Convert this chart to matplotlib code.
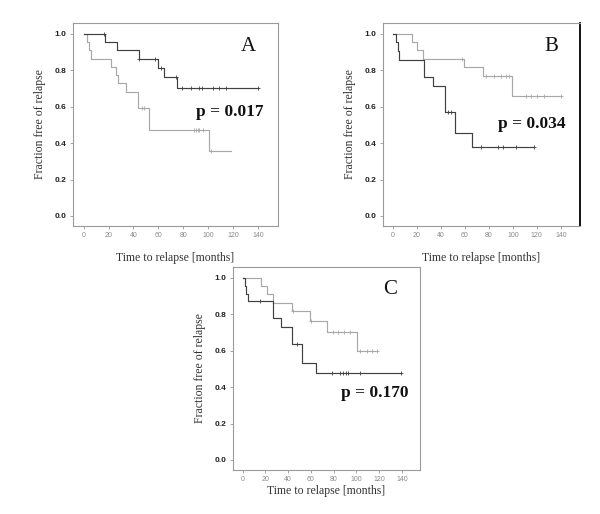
import matplotlib
matplotlib.use("Agg")
import matplotlib.pyplot as plt
import numpy as np

plt.rcParams["font.family"] = ["Liberation Serif", "DejaVu Serif"]

# Kaplan-Meier step data: step times, survival, censor times, last follow-up
# panel A
a_dark_t = [0, 16.9, 26.8, 44.2, 60.0, 64.8, 75.3]
a_dark_s = [1.0, 0.955, 0.909, 0.864, 0.811, 0.760, 0.700]
a_dark_c = [16.0, 44.8, 57.0, 62.0, 74.0, 79.0, 86.0, 92.5, 95.0, 103.5, 109.0, 114.0, 140.0]
a_dark_end = 140
a_light_t = [0, 2.7, 4.0, 5.9, 22.0, 26.3, 27.2, 34.3, 43.8, 52.5, 100.3]
a_light_s = [1.0, 0.955, 0.909, 0.864, 0.818, 0.773, 0.727, 0.682, 0.591, 0.473, 0.355]
a_light_c = [47.2, 48.7, 88.8, 90.1, 91.5, 92.8, 95.5, 102.5]
a_light_end = 118

# panel B
b_light_t = [0, 15.7, 20.1, 24.9, 59.3, 75.5, 99.2]
b_light_s = [1.0, 0.955, 0.909, 0.864, 0.816, 0.768, 0.658]
b_light_c = [57.4, 77.6, 84.0, 90.0, 94.2, 96.9, 110.7, 114.9, 120.4, 126.0, 140.0]
b_light_end = 140
b_dark_t = [0, 2.8, 4.1, 5.5, 25.7, 33.1, 43.3, 51.9, 65.7]
b_dark_s = [1.0, 0.952, 0.905, 0.857, 0.762, 0.714, 0.571, 0.457, 0.381]
b_dark_c = [46.0, 48.6, 73.5, 87.3, 91.4, 102.5, 118.0]
b_dark_end = 118

# panel C
c_light_t = [0, 16.5, 21.2, 26.3, 43.7, 59.0, 74.6, 100.3]
c_light_s = [1.0, 0.955, 0.909, 0.864, 0.819, 0.764, 0.702, 0.598]
c_light_c = [44.2, 60.5, 79.7, 84.0, 89.0, 94.3, 103.2, 109.1, 113.5, 118.0]
c_light_end = 118
c_dark_t = [0, 1.8, 3.3, 5.0, 26.3, 33.6, 43.7, 52.2, 64.9]
c_dark_s = [1.0, 0.957, 0.913, 0.870, 0.778, 0.732, 0.636, 0.530, 0.477]
c_dark_c = [15.2, 47.7, 78.2, 85.5, 88.4, 90.8, 92.8, 103.2, 139.2]
c_dark_end = 139.2

letters = ["A", "B", "C"]
pvalues = ["p = 0.017", "p = 0.034", "p = 0.170"]

DARK = "#404040"
LIGHT = "#a8a8a8"


def km(ax, t, s, cens, end, color):
    tt = list(t) + [end]
    ss = list(s) + [s[-1]]
    ax.step(tt, ss, where="post", color=color, lw=0.85, zorder=2)
    idx = np.searchsorted(t, cens, side="right") - 1
    ax.plot(cens, np.array(s)[idx], ls="none", marker="+", ms=3.2,
            mew=0.6, color=color, zorder=3)


def setup(ax, letter, pval, px, py, lx, ly, xpad):
    ax.set_xlim(-8.5, 156)
    ax.set_ylim(-0.055, 1.059)
    ax.set_xticks(range(0, 141, 20))
    ax.set_yticks(np.arange(0, 1.01, 0.2))
    ax.set_yticklabels(["%.1f" % v for v in np.arange(0, 1.01, 0.2)],
                       family="Liberation Sans", weight="bold", size=6,
                       color="#222222")
    ax.set_xticklabels([str(v) for v in range(0, 141, 20)],
                       family="Liberation Sans", size=5, color="#8a8a8a")
    ax.tick_params(direction="out", length=2.5, width=0.6, color="#999999", pad=2)
    for sp in ax.spines.values():
        sp.set_color("#9a9a9a")
        sp.set_linewidth(0.8)
    ax.set_xlabel("Time to relapse [months]", size=8.5, color="#333333", labelpad=xpad)
    ax.set_ylabel("Fraction free of relapse", size=8.5, color="#333333", labelpad=6.5)
    ax.text(lx, ly, letter, transform=ax.transAxes, ha="center", va="center",
            size=15, color="#111111")
    ax.text(px, py, pval, ha="center", va="center", size=12.5,
            weight="bold", color="#111111")


fig = plt.figure(figsize=(6, 5.14), dpi=100)
axA = fig.add_axes([0.1217, 0.5603, 0.3417, 0.395])
axB = fig.add_axes([0.6378, 0.5603, 0.3289, 0.395])
axC = fig.add_axes([0.3883, 0.0856, 0.3117, 0.395])

km(axA, a_light_t, a_light_s, a_light_c, a_light_end, LIGHT)
km(axA, a_dark_t, a_dark_s, a_dark_c, a_dark_end, DARK)
setup(axA, letters[0], pvalues[0], 117, 0.572, 0.857, 0.883, 9)

km(axB, b_light_t, b_light_s, b_light_c, b_light_end, LIGHT)
km(axB, b_dark_t, b_dark_s, b_dark_c, b_dark_end, DARK)
setup(axB, letters[1], pvalues[1], 116, 0.507, 0.857, 0.883, 9)
axB.spines["right"].set_color("black")
axB.spines["right"].set_linewidth(1.3)

km(axC, c_light_t, c_light_s, c_light_c, c_light_end, LIGHT)
km(axC, c_dark_t, c_dark_s, c_dark_c, c_dark_end, DARK)
setup(axC, letters[2], pvalues[2], 116, 0.366, 0.84, 0.887, 1.5)

fig.savefig("out.png", dpi=100)
